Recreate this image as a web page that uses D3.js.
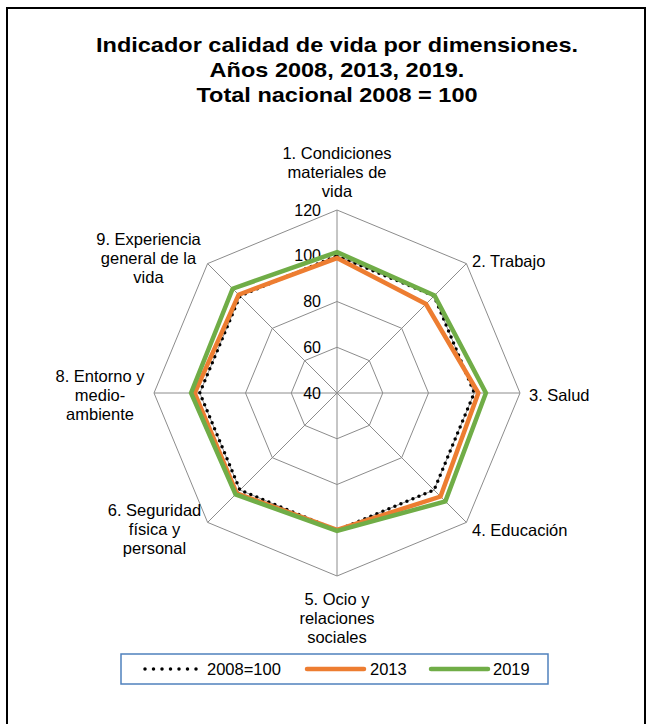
<!DOCTYPE html>
<html>
<head>
<meta charset="utf-8">
<script src="https://cdn.jsdelivr.net/npm/d3@7"></script>
<style>
  body { margin: 0; background: #fff; }
  text { font-family: "Liberation Sans", Arial, sans-serif; fill: #000; }
</style>
</head>
<body>
<svg id="chart" width="650" height="724"></svg>
<script>
// dimensions (axis labels, one array of lines per axis)
var dimensiones = [
  ["1. Condiciones", "materiales de", "vida"],
  ["2. Trabajo"],
  ["3. Salud"],
  ["4. Educación"],
  ["5. Ocio y", "relaciones", "sociales"],
  ["6. Seguridad", "física y", "personal"],
  ["8. Entorno y", "medio-", "ambiente"],
  ["9. Experiencia", "general de la", "vida"]
];
var serie2008 = [100, 100, 100, 100, 100, 100, 100, 100];
var serie2013 = [99.0, 95.0, 101.8, 104.0, 99.8, 102.0, 102.2, 100.8];
var serie2019 = [101.6, 100.3, 105.1, 107.0, 100.3, 102.7, 103.8, 104.5];
var ticks = [40, 60, 80, 100, 120];
var leyenda = ["2008=100", "2013", "2019"];

var svg = d3.select("#chart");
var cx = 337, cy = 393;

// outer border
svg.append("rect").attr("x", 7).attr("y", 8).attr("width", 638).attr("height", 730)
  .attr("fill", "none").attr("stroke", "#000").attr("stroke-width", 2);

// title
var titulo = ["Indicador calidad de vida por dimensiones.", "Años 2008, 2013, 2019.", "Total nacional 2008 = 100"];
svg.selectAll(".titulo").data(titulo).enter().append("text")
  .attr("class", "titulo")
  .attr("transform", function(d, i) { return "translate(" + cx + "," + (52 + i * 25) + ") scale(1.12,1)"; })
  .attr("text-anchor", "middle")
  .style("font-size", "21px").style("font-weight", "bold")
  .text(function(d) { return d; });

var r = d3.scaleLinear().domain([40, 120]).range([0, 183]);
var n = dimensiones.length;
var ang = d3.scaleLinear().domain([0, n]).range([0, 2 * Math.PI]);

function pt(i, v) {
  var a = ang(i);
  return [cx + r(v) * Math.sin(a), cy - r(v) * Math.cos(a)];
}

// grid rings
ticks.slice(1).forEach(function(t) {
  var pts = d3.range(n).map(function(i) { return pt(i, t); });
  svg.append("polygon").attr("points", pts.map(function(p) { return p.join(","); }).join(" "))
    .attr("fill", "none").attr("stroke", "#8c8c8c").attr("stroke-width", 1);
});
// spokes
d3.range(n).forEach(function(i) {
  var p = pt(i, 120);
  svg.append("line").attr("x1", cx).attr("y1", cy).attr("x2", p[0]).attr("y2", p[1])
    .attr("stroke", "#8c8c8c").attr("stroke-width", 1);
});

// tick labels
svg.selectAll(".tick").data(ticks).enter().append("text")
  .attr("x", cx - 16).attr("y", function(d) { return cy - r(d) + 5.5; })
  .attr("text-anchor", "end").style("font-size", "16px")
  .text(function(d) { return d; });

// series
var line = d3.line().curve(d3.curveLinearClosed);
function dibujar(vals, color, width, dash) {
  var path = svg.append("path")
    .attr("d", line(vals.map(function(v, i) { return pt(i, v); })))
    .attr("fill", "none").attr("stroke", color).attr("stroke-width", width)
    .attr("stroke-linejoin", "miter");
  if (dash) path.attr("stroke-dasharray", dash).attr("stroke-linecap", "round");
}
dibujar(serie2008, "#000", 3.5, "0 6.5");
dibujar(serie2013, "#ED7D31", 4.5);
dibujar(serie2019, "#70AD47", 4.5);

// axis labels
var pos = [
  { x: 337, y: 159, a: "middle" },
  { x: 472, y: 267, a: "start" },
  { x: 529, y: 401, a: "start" },
  { x: 472, y: 536, a: "start" },
  { x: 337, y: 605, a: "middle" },
  { x: 154.5, y: 516, a: "middle" },
  { x: 100, y: 382, a: "middle" },
  { x: 148.5, y: 245, a: "middle" }
];
dimensiones.forEach(function(lines, i) {
  var t = svg.append("text").attr("x", pos[i].x).attr("y", pos[i].y)
    .attr("text-anchor", pos[i].a).style("font-size", "16.5px");
  lines.forEach(function(l, j) {
    t.append("tspan").attr("x", pos[i].x).attr("dy", j === 0 ? 0 : 19).text(l);
  });
});

// legend
svg.append("rect").attr("x", 121).attr("y", 654).attr("width", 427).attr("height", 30)
  .attr("fill", "#fff").attr("stroke", "#4F81BD").attr("stroke-width", 1.5);
var ley = [
  { x1: 145, x2: 197, tx: 207, color: "#000", dash: "0 8.5", w: 3.5 },
  { x1: 307, x2: 364, tx: 370, color: "#ED7D31", dash: null, w: 4.5 },
  { x1: 431, x2: 488, tx: 493, color: "#70AD47", dash: null, w: 4.5 }
];
ley.forEach(function(d, i) {
  var l = svg.append("line").attr("x1", d.x1).attr("x2", d.x2).attr("y1", 669).attr("y2", 669)
    .attr("stroke", d.color).attr("stroke-width", d.w).attr("stroke-linecap", "round");
  if (d.dash) l.attr("stroke-dasharray", d.dash);
  svg.append("text").attr("x", d.tx).attr("y", 675).style("font-size", "16.5px").text(leyenda[i]);
});
</script>
</body>
</html>
